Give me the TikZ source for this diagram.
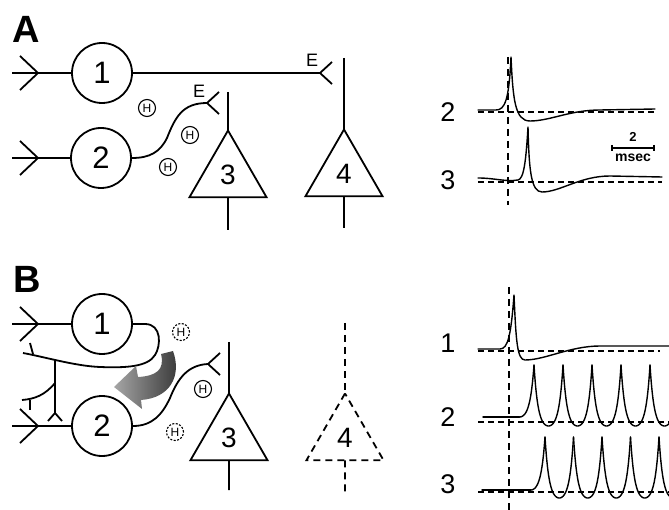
\documentclass[tikz,border=0pt]{standalone}
\usepackage{fontspec}
\setmainfont{Liberation Sans}
\usetikzlibrary{shapes.geometric, arrows.meta, positioning, calc}

\begin{document}
\begin{tikzpicture}[
    x=1pt, y=-1pt,
    line width=1.8pt,
    cell/.style={draw, circle, minimum size=60pt, inner sep=0pt, font=\fontsize{31}{31}\selectfont},
    pyr/.style={draw, regular polygon, regular polygon sides=3, minimum size=89pt, inner sep=0pt, outer sep=0pt, font=\fontsize{28}{28}\selectfont},
    pyrd/.style={pyr, dash pattern=on 7pt off 5pt},
    gj/.style={draw, circle, minimum size=17pt, inner sep=0pt, line width=1.1pt, font=\fontsize{12}{12}\selectfont},
    gjd/.style={gj, dash pattern=on 2pt off 1.5pt},
    tag/.style={font=\fontsize{38}{38}\selectfont\bfseries},
    lab/.style={font=\fontsize{27}{27}\selectfont},
    syn/.style={font=\fontsize{18}{18}\selectfont},
    trace/.style={line width=1.4pt, line cap=round, line join=round},
    base/.style={line width=1.5pt, dash pattern=on 6pt off 4pt},
    dline/.style={dash pattern=on 7pt off 5pt},
    infork/.pic={\draw (0,0) -- (-18,-17) (0,0) -- (-18,17);},
    efork/.pic={\draw (0,0) -- (12,-11) (0,0) -- (12,11);},
]
\useasboundingbox (0,0) rectangle (669,510);

% ---------------- Panel A ----------------
\node[tag] (tagA) at (26,29) {A};

\node[cell] (a1) at (102,73) {1};
\node[cell] (a2) at (101,158) {2};
\node[pyr] (a3) at (228,175) {3};
\node[pyr] (a4) at (344,174) {4};

\coordinate (a1in) at (12,73);
\coordinate (a2in) at (12,158);
\coordinate (a1e) at (320,73);
\coordinate (a2e) at (207,103);

\draw (a1in) -- (a1.west);
\draw (a2in) -- (a2.west);
\pic at (38,73) {infork};
\pic at (38,158) {infork};

% axons
\draw (a1.east) -- (a1e);
\pic at (a1e) {efork};
\draw (a2.east) .. controls (150,158) and (160,152) .. (167,138)
    .. controls (175,118) and (182,103) .. (a2e);
\pic at (a2e) {efork};
\node[syn] (ea1) at (312,60) {E};
\node[syn] (ea2) at (199,91) {E};

% dendrites of 3 and 4
\draw (228,92) -- (a3.corner 1);
\draw (a3.south) -- (228,230);
\draw (344,58) -- (a4.corner 1);
\draw (a4.south) -- (344,228);

% gap junctions
\node[gj] (ha1) at (147,108) {H};
\node[gj] (ha2) at (190,135) {H};
\node[gj] (ha3) at (168,167) {H};

% traces A
\node[lab] (la2) at (448,112) {2};
\node[lab] (la3) at (448,180) {3};
\draw[dline, line width=1.4pt] (508,57) -- (508,205);
\draw[base] (478,112) -- (655,112);
\draw[base] (478,182) -- (662,182);
\draw[trace] (478,110) -- (496,110) .. controls (505,110) and (509,100) .. (511,57)
    .. controls (513,100) and (515,121) .. (530,121)
    .. controls (550,121) and (570,110) .. (600,110) -- (655,109);
\draw[trace] (478,178) .. controls (495,178) and (505,182) .. (518,180)
    .. controls (524,179) and (526,160) .. (528,127)
    .. controls (529,170) and (531,192) .. (542,192)
    .. controls (560,192) and (580,176) .. (610,176) -- (662,177);

% scale bar
\node[font=\fontsize{13}{13}\selectfont\bfseries] (sb2) at (633,137) {2};
\node[font=\fontsize{14}{14}\selectfont\bfseries] (sbms) at (633,158) {msec};
\draw[line width=1.2pt] (612,148) -- (654,148);
\draw[line width=1.2pt] (612,145) -- (612,151) (654,145) -- (654,151);

% ---------------- Panel B ----------------
\node[tag] (tagB) at (27,279) {B};

\node[cell] (b1) at (102,324) {1};
\node[cell] (b2) at (102,426) {2};
\node[pyr] (b3) at (229,438) {3};
\node[pyrd] (b4) at (345,438) {4};

\coordinate (b1in) at (12,324);
\coordinate (b2in) at (12,426);
\coordinate (b2e) at (208,364);

\draw (b1in) -- (b1.west);
\draw (b2in) -- (b2.west);
\pic at (38,324) {infork};
\pic at (38,426) {infork};

% looping axon of 1
\draw (b1.east) -- (145,324) .. controls (162,324) and (161,346) .. (155,355)
    .. controls (148,367) and (125,368) .. (100,367)
    .. controls (75,366) and (45,357) .. (23,353);
\draw (33,354) -- (30,343);
\draw (55,360) -- (55,413);
\draw (55,413) -- (48,421) (55,413) -- (62,421);
\draw (55,383) .. controls (45,395) and (35,399) .. (22,400);
\draw (30,400) -- (30,410);

% axon of 2
\draw (b2.east) .. controls (152,426) and (162,415) .. (170,398)
    .. controls (178,378) and (188,365) .. (b2e);
\pic at (b2e) {efork};

% dendrites of 3 and 4
\draw (229,342) -- (b3.corner 1);
\draw (b3.south) -- (229,490);
\draw[dline] (345,323) -- (b4.corner 1);
\draw[dline] (b4.south) -- (345,493);

% gap junctions
\node[gjd] (hb1) at (181,332) {H};
\node[gj] (hb2) at (203,389) {H};
\node[gjd] (hb3) at (175,432) {H};

% curved arrow
\shade[left color=black!35, right color=black!80]
    (161,354) -- (173,351) .. controls (182,376) and (170,398) .. (141,400)
    -- (142,409) -- (114,387) -- (136,366) -- (138,377)
    .. controls (156,376) and (165,370) .. (161,354) -- cycle;

% traces B
\node[lab] (lb1) at (448,343) {1};
\node[lab] (lb2) at (448,417) {2};
\node[lab] (lb3) at (448,484) {3};

\begin{scope}
\clip (470,280) rectangle (669,510);
\draw[dline, line width=1.4pt] (509,287) -- (509,510);
\draw[base] (478,351) -- (660,351);
\draw[base] (478,422) -- (669,422);
\draw[base] (478,492) -- (669,492);

\draw[trace] (478,349) -- (500,349) .. controls (508,349) and (511,335) .. (514,295)
    .. controls (516,340) and (517,360) .. (525,360)
    .. controls (545,360) and (570,346) .. (600,346) -- (669,346);

% cell 2: bursting
\draw[trace] (483,417) -- (519.5,417);
\draw[trace] plot[domain=519.5:534, samples=40]
    (\x, {417-52*(cosh((\x-519.5)/4)-1)/(cosh(14.5/4)-1)});
\foreach \t in {534,563,592,621,650}
    \draw[trace] plot[domain=\t:\t+29, samples=60]
        (\x, {426-61*(cosh((\x-\t-14.5)/4)-1)/(cosh(14.5/4)-1)});

% cell 3: bursting
\draw[trace] (482,490) -- (530.75,490);
\draw[trace] plot[domain=530.75:545, samples=40]
    (\x, {490-53*(cosh((\x-530.75)/4)-1)/(cosh(14.25/4)-1)});
\foreach \t in {545,573.5,602,630.5,659}
    \draw[trace] plot[domain=\t:\t+28.5, samples=60]
        (\x, {498-61*(cosh((\x-\t-14.25)/4)-1)/(cosh(14.25/4)-1)});
\end{scope}

\end{tikzpicture}
\end{document}
